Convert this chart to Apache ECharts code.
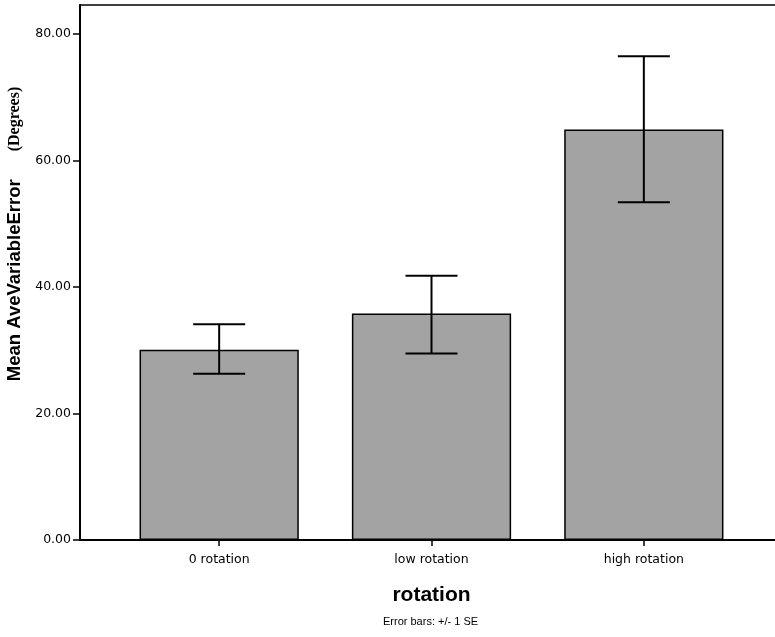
<!DOCTYPE html>
<html>
<head>
<meta charset="utf-8">
<script src="https://cdn.jsdelivr.net/npm/echarts@6/dist/echarts.min.js"></script>
<style>html,body{margin:0;padding:0;background:#fff;}#c{width:775px;height:637px;}</style>
</head>
<body>
<div id="c"></div>
<script>
const categories = ['0 rotation', 'low rotation', 'high rotation'];
const means = [30.1, 35.8, 64.9];
const upper = [34.1, 41.8, 76.5];
const lower = [26.3, 29.5, 53.4];
const yTicks = [0, 20, 40, 60, 80];
const yMax = 84.6;

const chart = echarts.init(document.getElementById('c'), null, {renderer: 'canvas'});
const SANS = 'Liberation Sans, Arial, sans-serif';
const WIDE = 'DejaVu Sans, sans-serif';
const errData = categories.map((c, i) => [i, lower[i], upper[i]]);

chart.setOption({
  animation: false,
  backgroundColor: '#fff',
  grid: [
    {left: 113, right: 25, top: 5, bottom: 97, containLabel: false, outerBoundsMode: 'none'},
    {left: 80, right: 0, top: 5, bottom: 97, containLabel: false, outerBoundsMode: 'none'}
  ],
  xAxis: [
    {
      type: 'category', gridIndex: 0, data: categories,
      axisLine: {show: false},
      axisTick: {show: true, alignWithLabel: true, length: 6, lineStyle: {color: '#000', width: 1.5}},
      axisLabel: {color: '#000', fontFamily: WIDE, fontSize: 12.5, margin: 13},
      name: 'rotation', nameLocation: 'middle', nameGap: 45,
      nameTextStyle: {color: '#000', fontFamily: SANS, fontSize: 21, fontWeight: 'bold'}
    },
    {
      type: 'value', gridIndex: 1, min: 0, max: 1, position: 'bottom',
      axisLine: {show: true, lineStyle: {color: '#000', width: 2}},
      axisTick: {show: false}, axisLabel: {show: false}, splitLine: {show: false}
    },
    {
      type: 'value', gridIndex: 1, min: 0, max: 1, position: 'top',
      axisLine: {show: true, lineStyle: {color: '#000', width: 1.5}},
      axisTick: {show: false}, axisLabel: {show: false}, splitLine: {show: false}
    }
  ],
  yAxis: [
    {
      type: 'value', gridIndex: 0, min: 0, max: yMax,
      show: false, splitLine: {show: false}
    },
    {
      type: 'value', gridIndex: 1, min: 0, max: yMax,
      axisLine: {show: true, lineStyle: {color: '#000', width: 2}},
      axisTick: {show: true, length: 7, customValues: yTicks, lineStyle: {color: '#000', width: 1.5}},
      axisLabel: {color: '#000', fontFamily: WIDE, fontSize: 12.5, margin: 9, customValues: yTicks,
        formatter: v => v.toFixed(2)},
      splitLine: {show: false},
      name: '{a|Mean AveVariableError}{b|(Degrees)}',
      nameLocation: 'middle', nameGap: 52,
      nameTextStyle: {
        padding: [0, 0, 0, 77],
        rich: {
          a: {fontFamily: SANS, fontSize: 18.5, fontWeight: 'bold', color: '#000'},
          b: {fontFamily: 'Liberation Serif, Times New Roman, serif', fontSize: 16, fontWeight: 'bold', color: '#000', padding: [0, 0, 0, 28]}
        }
      }
    }
  ],
  series: [
    {
      type: 'bar', xAxisIndex: 0, yAxisIndex: 0, data: means,
      barWidth: '75%',
      itemStyle: {color: '#a3a3a3', borderColor: '#000', borderWidth: 1.5},
      z: 2
    },
    {
      type: 'custom', xAxisIndex: 0, yAxisIndex: 0, data: errData, z: 5,
      renderItem: function (params, api) {
        const x = api.value(0);
        const lo = api.coord([x, api.value(1)]);
        const hi = api.coord([x, api.value(2)]);
        const half = 26;
        const st = {stroke: '#000', lineWidth: 2};
        return {type: 'group', children: [
          {type: 'line', shape: {x1: hi[0], y1: hi[1], x2: lo[0], y2: lo[1]}, style: st},
          {type: 'line', shape: {x1: hi[0] - half, y1: hi[1], x2: hi[0] + half, y2: hi[1]}, style: st},
          {type: 'line', shape: {x1: lo[0] - half, y1: lo[1], x2: lo[0] + half, y2: lo[1]}, style: st}
        ]};
      }
    }
  ],
  graphic: [
    {type: 'text', left: 383, top: 616,
     style: {text: 'Error bars: +/- 1 SE', fontFamily: SANS, fontSize: 11, fill: '#000'}}
  ]
});
</script>
</body>
</html>
